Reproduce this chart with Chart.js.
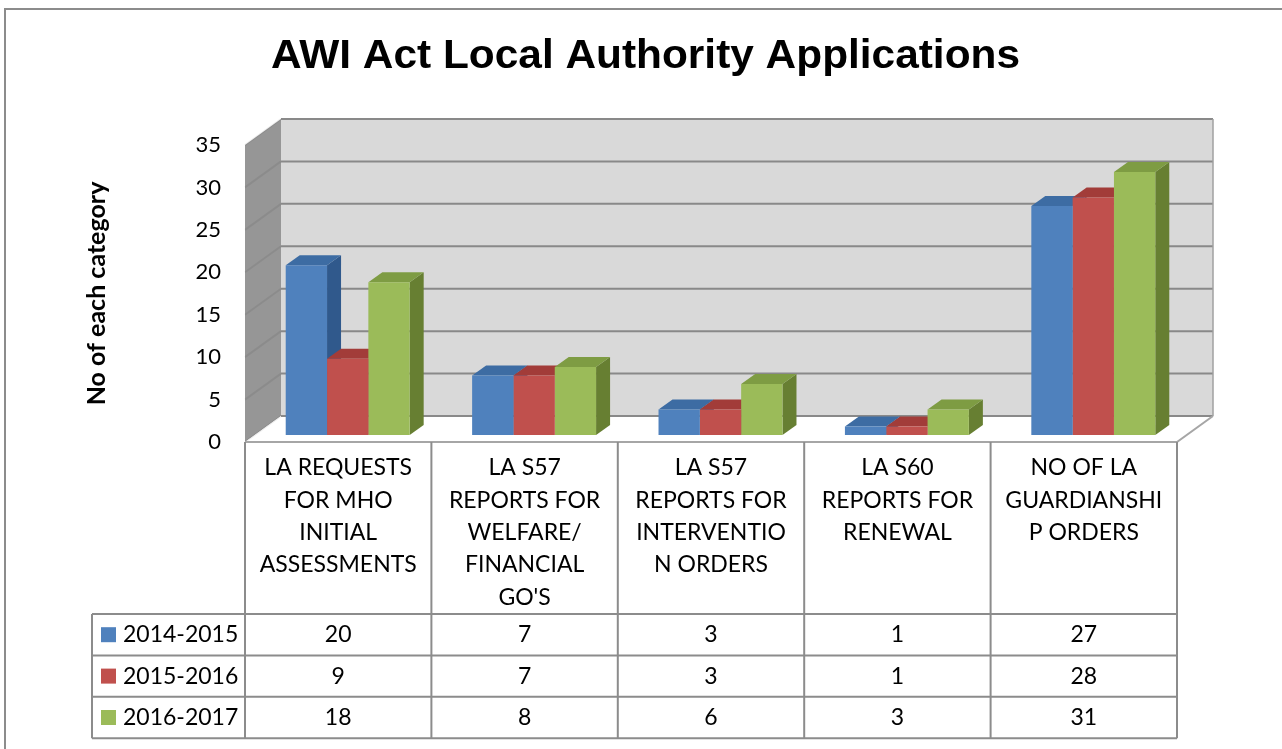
<!DOCTYPE html>
<html>
<head>
<meta charset="utf-8">
<title>AWI Act Local Authority Applications</title>
<script src="https://cdn.jsdelivr.net/npm/chart.js@4.4.1/dist/chart.umd.min.js"></script>
<style>
  html, body { margin: 0; padding: 0; background: #fff; }
  canvas { display: block; }
</style>
</head>
<body>
<canvas id="awiChart" width="1282" height="749"></canvas>
<script>
// data
const chartTitle = 'AWI Act Local Authority Applications';
const yTitle = 'No of each category';
const categories = [
    ['LA REQUESTS', 'FOR MHO', 'INITIAL', 'ASSESSMENTS'],
    ['LA S57', 'REPORTS FOR', 'WELFARE/', 'FINANCIAL', "GO'S"],
    ['LA S57', 'REPORTS FOR', 'INTERVENTIO', 'N ORDERS'],
    ['LA S60', 'REPORTS FOR', 'RENEWAL'],
    ['NO OF LA', 'GUARDIANSHI', 'P ORDERS']
];
const seriesNames = ['2014-2015', '2015-2016', '2016-2017'];
const values1415 = [20, 7, 3, 1, 27];
const values1516 = [9, 7, 3, 1, 28];
const values1617 = [18, 8, 6, 3, 31];
const yTicks = [0, 5, 10, 15, 20, 25, 30, 35];

// colours (front, top, side)
const frontCol = ['#4F81BD', '#C0504D', '#9BBB59'];
const topCol = ['#3D6CA3', '#A23C39', '#7E9C43'];
const sideCol = ['#30598C', '#8B3532', '#677F32'];

// 3d geometry
const WALL_DX = 36, WALL_DY = -26;
const BAR_DX = 9.5, BAR_DY = -7;
const DEPTH_X = 14, DEPTH_Y = -10;

const LINE_GREY = '#8C8C8C';
const FONT = 'Lato';

const box3d = {
    id: 'box3d',
    beforeDraw(chart) {
        const { ctx, chartArea: a, scales: { y } } = chart;
        ctx.save();
        ctx.fillStyle = '#fff';
        ctx.fillRect(0, 0, chart.width, chart.height);

        // outer frame (only left/top visible)
        ctx.strokeStyle = LINE_GREY;
        ctx.lineWidth = 2;
        ctx.beginPath();
        ctx.moveTo(5, 800);
        ctx.lineTo(5, 9);
        ctx.lineTo(1300, 9);
        ctx.stroke();

        const bx0 = a.left + WALL_DX, bx1 = a.right + WALL_DX;
        const by0 = a.top + WALL_DY, by1 = a.bottom + WALL_DY;

        // back wall
        ctx.fillStyle = '#D9D9D9';
        ctx.fillRect(bx0, by0, bx1 - bx0, by1 - by0);

        // side wall
        ctx.fillStyle = '#969696';
        ctx.beginPath();
        ctx.moveTo(a.left, a.top);
        ctx.lineTo(bx0, by0);
        ctx.lineTo(bx0, by1);
        ctx.lineTo(a.left, a.bottom);
        ctx.closePath();
        ctx.fill();

        // floor
        ctx.fillStyle = '#fff';
        ctx.beginPath();
        ctx.moveTo(a.left, a.bottom);
        ctx.lineTo(bx0, by1);
        ctx.lineTo(bx1, by1);
        ctx.lineTo(a.right, a.bottom);
        ctx.closePath();
        ctx.fill();

        // grid lines
        yTicks.forEach(v => {
            const py = y.getPixelForValue(v);
            ctx.strokeStyle = 'rgba(0,0,0,0.07)';
            ctx.lineWidth = 2;
            ctx.beginPath();
            ctx.moveTo(a.left, py);
            ctx.lineTo(bx0, py + WALL_DY);
            ctx.stroke();
            ctx.strokeStyle = '#898989';
            ctx.beginPath();
            ctx.moveTo(bx0, py + WALL_DY);
            ctx.lineTo(bx1, py + WALL_DY);
            ctx.stroke();
        });

        // wall border right
        ctx.strokeStyle = '#A0A0A0';
        ctx.lineWidth = 1.5;
        ctx.beginPath();
        ctx.moveTo(bx1, by0);
        ctx.lineTo(bx1, by1);
        ctx.stroke();

        // floor edges
        ctx.strokeStyle = '#A6A6A6';
        ctx.lineWidth = 2;
        ctx.beginPath();
        ctx.moveTo(bx1, by1);
        ctx.lineTo(a.right, a.bottom);
        ctx.lineTo(a.left, a.bottom);
        ctx.stroke();
        ctx.restore();
    },
    beforeDatasetsDraw(chart) {
        const ctx = chart.ctx;
        ctx.save();
        ctx.translate(BAR_DX, BAR_DY);
        const metas = chart.getSortedVisibleDatasetMetas();
        for (let i = 0; i < categories.length; i++) {
            metas.forEach((meta, s) => {
                const { x, y, base, width } = meta.data[i].getProps(['x', 'y', 'base', 'width'], true);
                const l = x - width / 2, r = x + width / 2;
                ctx.fillStyle = sideCol[s];
                ctx.beginPath();
                ctx.moveTo(r, y);
                ctx.lineTo(r + DEPTH_X, y + DEPTH_Y);
                ctx.lineTo(r + DEPTH_X, base + DEPTH_Y);
                ctx.lineTo(r, base);
                ctx.closePath();
                ctx.fill();
                ctx.fillStyle = topCol[s];
                ctx.beginPath();
                ctx.moveTo(l, y);
                ctx.lineTo(l + DEPTH_X, y + DEPTH_Y);
                ctx.lineTo(r + DEPTH_X, y + DEPTH_Y);
                ctx.lineTo(r, y);
                ctx.closePath();
                ctx.fill();
            });
        }
    },
    afterDatasetsDraw(chart) {
        chart.ctx.restore();
    },
    afterDraw(chart) {
        const { ctx, chartArea: a, scales: { x } } = chart;
        const colW = x.width / categories.length;
        const headBottom = 614;
        const rowH = 41.4;
        const tableBottom = headBottom + rowH * 3;
        const legendLeft = 92;
        const rows = [values1415, values1516, values1617];

        ctx.save();
        // title
        ctx.font = 'bold 41px "Liberation Sans"';
        ctx.fillStyle = '#000';
        ctx.textAlign = 'center';
        ctx.textBaseline = 'alphabetic';
        const tw = ctx.measureText(chartTitle).width;
        ctx.save();
        ctx.translate(645.5, 67.5);
        ctx.scale(749 / tw, 1);
        ctx.fillText(chartTitle, 0, 0);
        ctx.restore();

        // table grid
        ctx.strokeStyle = LINE_GREY;
        ctx.lineWidth = 2;
        ctx.beginPath();
        for (let i = 0; i <= categories.length; i++) {
            const px = a.left + i * colW;
            ctx.moveTo(px, a.bottom);
            ctx.lineTo(px, tableBottom);
        }
        for (let r = 0; r <= 3; r++) {
            const py = headBottom + r * rowH;
            ctx.moveTo(legendLeft, py);
            ctx.lineTo(a.right, py);
        }
        ctx.moveTo(legendLeft, headBottom);
        ctx.lineTo(legendLeft, tableBottom);
        ctx.stroke();

        // category labels
        ctx.font = '23px ' + FONT;
        ctx.textBaseline = 'middle';
        ctx.textAlign = 'center';
        categories.forEach((lines, i) => {
            const cx = x.getPixelForValue(i);
            lines.forEach((t, k) => ctx.fillText(t, cx, a.bottom + 26 + k * 32.3));
        });

        // rows
        rows.forEach((vals, r) => {
            const cy = headBottom + r * rowH + rowH / 2;
            ctx.textAlign = 'center';
            vals.forEach((v, i) => ctx.fillText(String(v), x.getPixelForValue(i), cy));
            ctx.fillStyle = frontCol[r];
            ctx.fillRect(101, cy - 7.5, 15, 15);
            ctx.fillStyle = '#000';
            ctx.textAlign = 'left';
            ctx.fillText(seriesNames[r], 123, cy);
        });
        ctx.restore();
    }
};

const ctx = document.getElementById('awiChart');

new Chart(ctx, {
    type: 'bar',
    data: {
        labels: categories,
        datasets: [
            { label: seriesNames[0], data: values1415, backgroundColor: frontCol[0] },
            { label: seriesNames[1], data: values1516, backgroundColor: frontCol[1] },
            { label: seriesNames[2], data: values1617, backgroundColor: frontCol[2] }
        ]
    },
    options: {
        responsive: false,
        animation: false,
        events: [],
        layout: {
            padding: { left: 0, right: 105, top: 145, bottom: 307 }
        },
        datasets: {
            bar: { categoryPercentage: 0.665, barPercentage: 1, borderWidth: 0, clip: false }
        },
        plugins: {
            legend: { display: false },
            tooltip: { enabled: false },
            title: { display: false }
        },
        scales: {
            x: {
                display: false,
                offset: true
            },
            y: {
                min: 0,
                max: 35,
                ticks: {
                    stepSize: 5,
                    padding: 24,
                    color: '#000',
                    font: { family: FONT, size: 22 }
                },
                grid: { display: false, drawTicks: false },
                border: { display: false },
                title: {
                    display: true,
                    text: yTitle,
                    color: '#000',
                    font: { family: FONT, size: 25, weight: 'bold' },
                    padding: { top: 82, bottom: 0 }
                },
                afterFit(scale) {
                    scale.width = 245;
                }
            }
        }
    },
    plugins: [box3d]
});
</script>
</body>
</html>
